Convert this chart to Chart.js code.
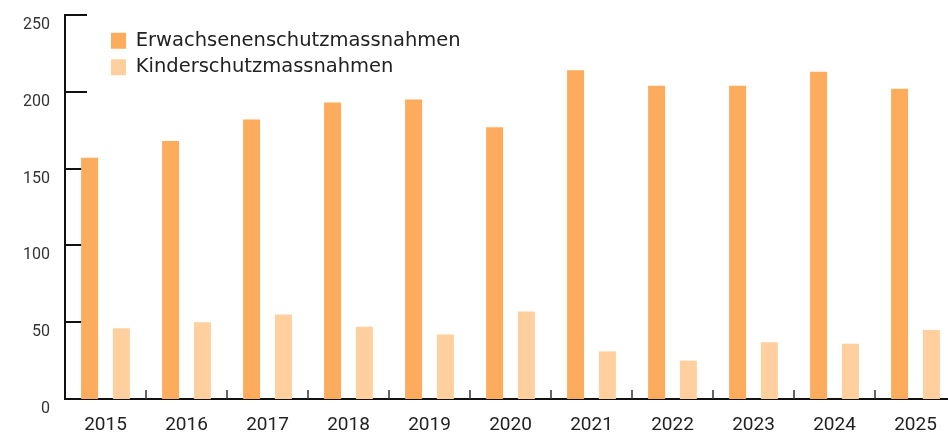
<!DOCTYPE html>
<html>
<head>
<meta charset="utf-8">
<title>Schutzmassnahmen</title>
<script src="https://cdn.jsdelivr.net/npm/chart.js@4.4.1/dist/chart.umd.min.js"></script>
<style>
  html, body { margin: 0; padding: 0; background: #fff; overflow: hidden; }
  #box { width: 960px; height: 434px; }
</style>
</head>
<body>
<div id="box"><canvas id="Massnahmen"></canvas></div>
<script>
const years = ["2015", "2016", "2017", "2018", "2019", "2020", "2021", "2022", "2023", "2024", "2025"];
const erwachsene = [157, 168, 182, 193, 195, 177, 214, 204, 204, 213, 202];
const kinder = [46, 50, 55, 47, 42, 57, 31, 25, 37, 36, 45];
const yTicks = [0, 50, 100, 150, 200, 250];

// tick marks drawn inside the plot, under the bars
const innerTicks = {
  id: "innerTicks",
  beforeDatasetsDraw(chart) {
    const ctx = chart.ctx;
    const area = chart.chartArea;
    const x = chart.scales.x;
    const y = chart.scales.y;
    ctx.save();
    ctx.strokeStyle = "#111";
    ctx.lineWidth = 2;
    yTicks.forEach((v) => {
      const py = Math.round(y.getPixelForValue(v));
      ctx.beginPath();
      ctx.moveTo(area.left, py);
      ctx.lineTo(area.left + 22, py);
      ctx.stroke();
    });
    ctx.lineWidth = 1.5;
    ctx.strokeStyle = "#333";
    for (let i = 0; i < years.length - 1; i++) {
      const px = Math.round((x.getPixelForValue(i) + x.getPixelForValue(i + 1)) / 2);
      ctx.beginPath();
      ctx.moveTo(px, area.bottom);
      ctx.lineTo(px, area.bottom - 9);
      ctx.stroke();
    }
    ctx.restore();
  },
};

// put the legend inside the plot, near the top left
const legendShift = {
  id: "legendShift",
  afterLayout(chart) {
    chart.legend.left = chart.chartArea.left + 39;
    chart.legend.top = chart.chartArea.top + 9;
  },
};

showChart_Massnahmen();
function showChart_Massnahmen() {
  const ctx = document.getElementById("Massnahmen");
  new Chart(ctx, {
    type: "bar",
    data: {
      labels: years,
      datasets: [
        {
          label: "Erwachsenenschutzmassnahmen",
          data: erwachsene,
          backgroundColor: "#fcac5c",
          borderWidth: 0,
          categoryPercentage: 0.785,
          barPercentage: 0.535,
        },
        {
          label: "Kinderschutzmassnahmen",
          data: kinder,
          backgroundColor: "#ffd09e",
          borderWidth: 0,
          categoryPercentage: 0.785,
          barPercentage: 0.535,
        },
      ],
    },
    options: {
      responsive: true,
      maintainAspectRatio: false,
      animation: false,
      layout: { padding: { top: 15, right: 4, left: 0, bottom: 0 } },
      scales: {
        x: {
          grid: { display: false, drawTicks: false },
          border: { display: true, color: "#111", width: 2 },
          ticks: {
            color: "#222",
            font: { family: "Roboto", size: 19 },
            padding: 15,
            maxRotation: 0,
          },
          afterFit(scale) { scale.height = 35; },
        },
        y: {
          min: 0,
          max: 250,
          grid: { display: false, drawTicks: false },
          border: { display: true, color: "#111", width: 2 },
          ticks: {
            stepSize: 50,
            color: "#333",
            font: { family: "Roboto", size: 16 },
            padding: 15,
            labelOffset: 10,
          },
          afterFit(scale) {
            scale.width = 65;
            scale.paddingTop = 0;
            scale.paddingBottom = 0;
          },
        },
      },
      plugins: {
        legend: {
          position: "chartArea",
          align: "start",
          labels: {
            boxWidth: 15,
            boxHeight: 16,
            padding: 7,
            color: "#222",
            font: { family: "DejaVu Sans", size: 19.5 },
          },
        },
        tooltip: { enabled: false },
      },
    },
    plugins: [innerTicks, legendShift],
  });
}
</script>
</body>
</html>
